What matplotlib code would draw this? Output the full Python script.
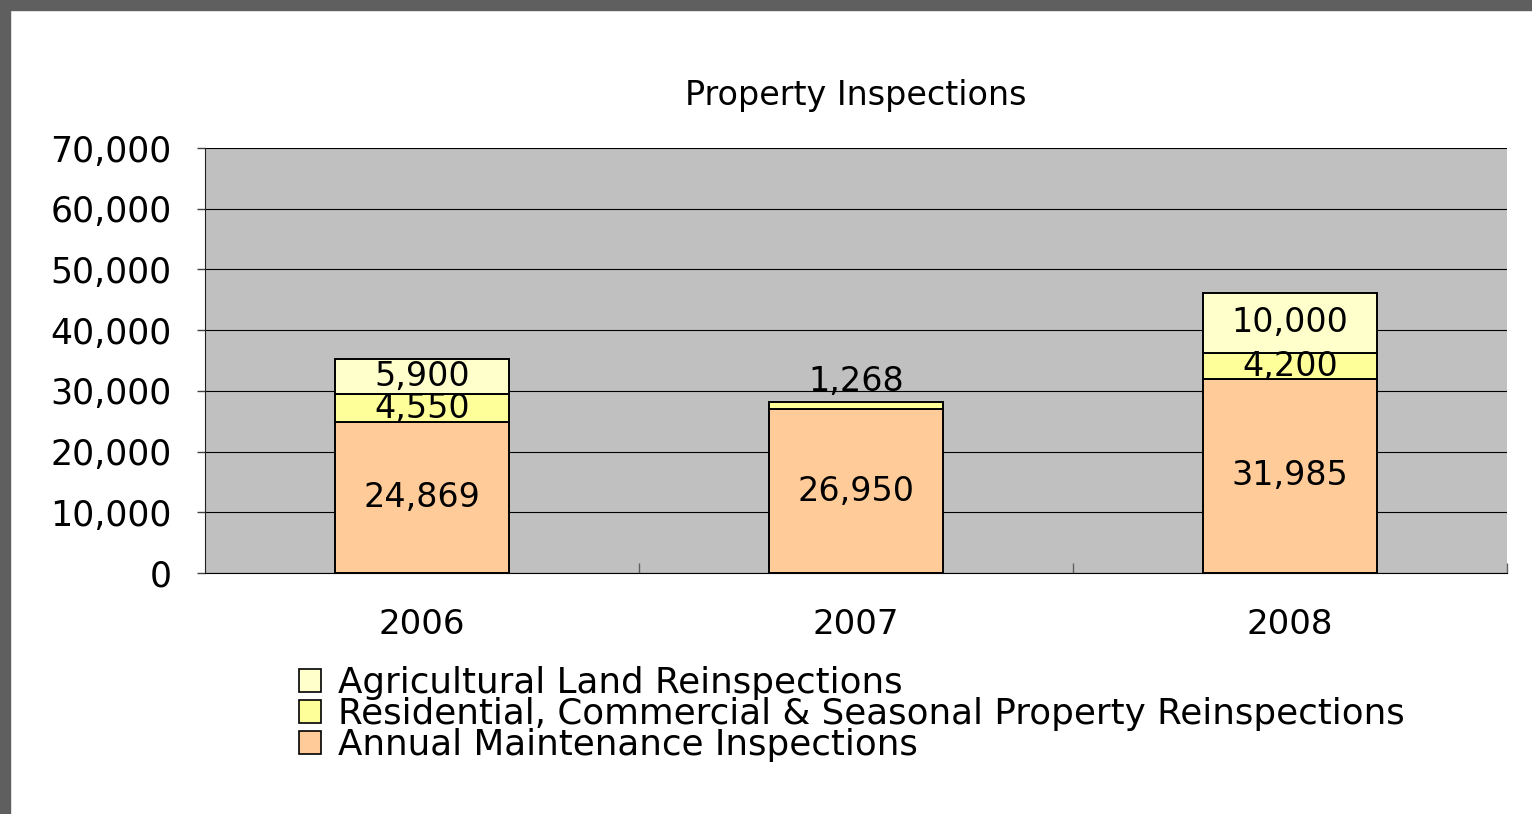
import matplotlib.pyplot as plt
from matplotlib.patches import Rectangle
from matplotlib.ticker import FuncFormatter, FixedLocator

years = ['2006', '2007', '2008']
annual = [24869, 26950, 31985]
residential = [4550, 1268, 4200]
agricultural = [5900, 0, 10000]

series_names = ['Agricultural Land Reinspections',
                'Residential, Commercial & Seasonal Property Reinspections',
                'Annual Maintenance Inspections']
colors = ['#FFFFCC', '#FFFF99', '#FFCC99']

plt.rcParams['font.family'] = ['DejaVu Sans']

fig = plt.figure(figsize=(15.32, 8.14), dpi=100)
ax = fig.add_axes([205 / 1532, 1 - 573 / 814, 1302 / 1532, 425 / 814])
ax.set_facecolor('#C0C0C0')

# dark frame on the top and left edges
fig.patches.append(Rectangle((0, 1 - 10 / 814), 1, 10 / 814, transform=fig.transFigure,
                             color='#5F5F5F', zorder=0))
fig.patches.append(Rectangle((0, 0), 10 / 1532, 1, transform=fig.transFigure,
                             color='#5F5F5F', zorder=0))

x = list(range(len(years)))
bottom2 = annual
bottom3 = [a + r for a, r in zip(annual, residential)]
edge = dict(edgecolor='black', linewidth=1.4, width=0.4, zorder=3)
b1 = ax.bar(x, annual, color=colors[2], label=series_names[2], **edge)
b2 = ax.bar(x, residential, bottom=bottom2, color=colors[1], label=series_names[1], **edge)
b3 = ax.bar([i for i in x if agricultural[i] > 0], [v for v in agricultural if v > 0],
            bottom=[bottom3[i] for i in x if agricultural[i] > 0],
            color=colors[0], label=series_names[0], **edge)

fmt = lambda v: '{:,}'.format(int(v))
ax.bar_label(b1, labels=[fmt(v) for v in annual], label_type='center', fontsize=24, zorder=4)
for i, v in enumerate(residential):
    if v > 2000:
        ax.text(i, bottom2[i] + v / 2, fmt(v), ha='center', va='center', fontsize=24, zorder=4)
    else:
        # small segment: label sits just above the bar
        ax.text(i, bottom3[i] + 3300, fmt(v), ha='center', va='center', fontsize=24, zorder=4)
for i, v in enumerate(agricultural):
    if v > 0:
        ax.text(i, bottom3[i] + v / 2, fmt(v), ha='center', va='center', fontsize=24, zorder=4)

ax.set_xlim(-0.5, 2.5)
ax.set_ylim(0, 70000)
ax.set_yticks(range(0, 70001, 10000))
ax.yaxis.set_major_formatter(FuncFormatter(lambda v, p: '{:,}'.format(int(v))))
ax.tick_params(axis='y', labelsize=25, length=6, width=1, pad=18, color='#404040')
ax.set_xticks(x)
ax.set_xticklabels(years)
ax.tick_params(axis='x', which='major', labelsize=24.5, length=0, pad=25)
ax.xaxis.set_minor_locator(FixedLocator([0.5, 1.5, 2.5]))
ax.tick_params(axis='x', which='minor', direction='in', length=7, width=1, color='#606060')

ax.yaxis.grid(True, color='black', linewidth=0.8, zorder=1)
ax.set_axisbelow(True)
for s in ['top', 'right']:
    ax.spines[s].set_visible(False)
ax.spines['left'].set_color('#202020')
ax.spines['bottom'].set_color('black')
ax.spines['bottom'].set_zorder(5)

fig.text(856 / 1532, 1 - 95 / 814, 'Property Inspections', ha='center', va='center', fontsize=24)

handles = [b3, b2, b1]
leg = fig.legend(handles, series_names, loc='upper left',
                 bbox_to_anchor=(299 / 1532, 1 - 666 / 814), frameon=False,
                 fontsize=25.7, borderpad=0, labelspacing=-0.08, handlelength=0.63,
                 handleheight=0.63, handletextpad=0.45, borderaxespad=0)
for h in leg.legend_handles:
    h.set_linewidth(1.2)

fig.savefig('out.png', dpi=100)
